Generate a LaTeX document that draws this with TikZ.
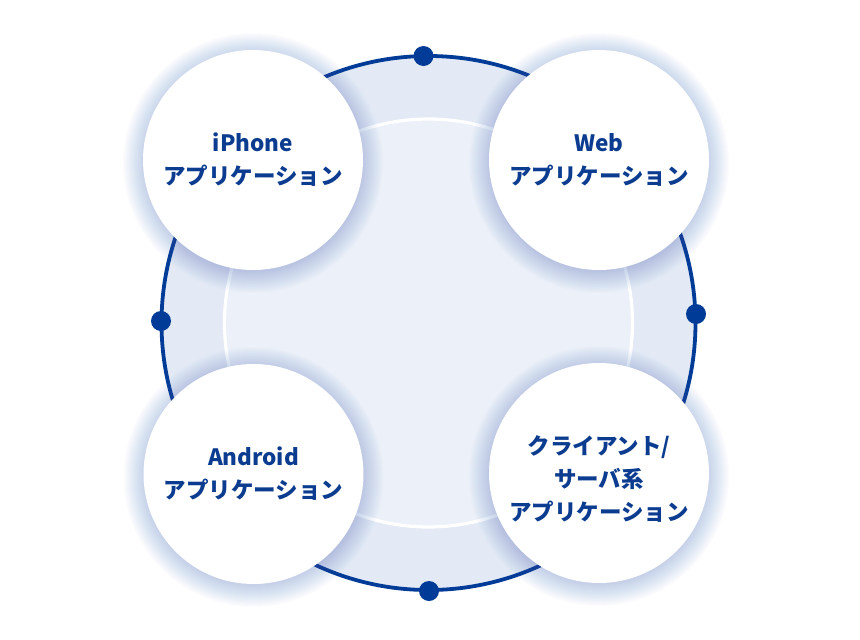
\documentclass[tikz,border=0pt]{standalone}
\usepackage{fontspec}
\usetikzlibrary{calc}
\setmainfont{Noto Sans CJK JP}
\newfontfamily\jpfont{Noto Sans CJK JP}
\definecolor{navy}{HTML}{003C97}
\definecolor{txtblue}{HTML}{0B3C8F}
\definecolor{bandfill}{HTML}{E3EAF5}
\definecolor{innerfill}{HTML}{ECF0F8}
\definecolor{glow}{HTML}{5A7CC0}
\tikzset{
  appcircle/.style={circle, fill=white, minimum size=220pt, inner sep=0pt,
    align=center, text=txtblue, font=\jpfont\bfseries\fontsize{22.5}{33}\selectfont},
  dotmark/.style={circle, fill=navy, minimum size=20pt, inner sep=0pt},
}
\begin{document}
\begin{tikzpicture}[x=1pt,y=-1pt]
\useasboundingbox (0,0) rectangle (860,640);
\fill[white] (0,0) rectangle (860,640);
% big ring
\coordinate (C) at (428.5,323);
\fill[bandfill] (C) circle (267);
\fill[innerfill] (C) circle (204);
\draw[white, line width=3.2pt] (C) circle (204);
\draw[navy, line width=3.8pt] (C) circle (267);
% dots
\node[dotmark] (dtop) at ($(C)+(-5,-267)$) {};
\node[dotmark] (dright) at (696,314) {};
\node[dotmark] (dbottom) at (429,591) {};
\node[dotmark] (dleft) at (161,321) {};
% glows
\foreach \cx/\cy in {253/160, 599/160, 253.5/474, 599/473}{
  \foreach \i in {1,...,22}{
    \fill[glow, opacity=0.016] (\cx,\cy+3) circle (108+\i);
  }
}
\node[appcircle] (iphone) at (253,160) {iPhone\\アプリケーション};
\node[appcircle] (web) at (599,160) {Web\\アプリケーション};
\node[appcircle] (android) at (253.5,474) {Android\\アプリケーション};
\node[appcircle] (client) at (599,473) {};
\node[align=center, text=txtblue, font=\jpfont\bfseries\fontsize{22.5}{33}\selectfont]
  (clienttext) at (599,479) {クライアント/\\サーバ系\\アプリケーション};
\end{tikzpicture}
\end{document}
